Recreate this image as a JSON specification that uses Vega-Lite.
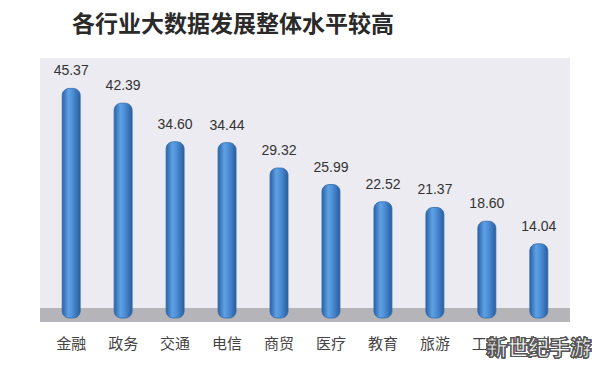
{
  "$schema": "https://vega.github.io/schema/vega-lite/v6.json",
  "autosize": "none",
  "width": 530,
  "height": 258,
  "padding": {"left": 40, "right": 24, "top": 58, "bottom": 50},
  "background": "#ffffff",
  "title": {
    "text": "各行业大数据发展整体水平较高",
    "anchor": "start",
    "dx": 32,
    "fontSize": 23,
    "font": "Noto Sans CJK SC",
    "fontWeight": "bold",
    "color": "#2a2a2a",
    "offset": 21
  },
  "config": {
    "view": {"stroke": null, "fill": "#ecebf1"},
    "axis": {"grid": false, "domain": false, "ticks": false}
  },
  "data": {
    "values": [
      {"industry": "金融", "score": 45.37},
      {"industry": "政务", "score": 42.39},
      {"industry": "交通", "score": 34.60},
      {"industry": "电信", "score": 34.44},
      {"industry": "商贸", "score": 29.32},
      {"industry": "医疗", "score": 25.99},
      {"industry": "教育", "score": 22.52},
      {"industry": "旅游", "score": 21.37},
      {"industry": "工业", "score": 18.60},
      {"industry": "农业", "score": 14.04}
    ]
  },
  "encoding": {
    "x": {
      "field": "industry",
      "type": "nominal",
      "sort": null,
      "scale": {"paddingInner": 0, "paddingOuter": 0.1},
      "axis": {
        "title": null,
        "labelAngle": 0,
        "labelFont": "Noto Sans CJK SC",
        "labelFontSize": 15,
        "labelColor": "#444444",
        "labelPadding": 20,
        "labelOverlap": false
      }
    }
  },
  "layer": [
    {
      "mark": {"type": "rect", "color": "#b4b4b9"},
      "encoding": {
        "x": null,
        "y": {"datum": 1, "type": "quantitative", "scale": {"domain": [-0.5, 51.5], "nice": false, "zero": false}, "axis": null},
        "y2": {"datum": -1.6}
      }
    },
    {
      "mark": {
        "type": "bar",
        "width": 18,
        "cornerRadiusTopLeft": 7,
        "cornerRadiusTopRight": 7,
        "cornerRadiusBottomLeft": 7,
        "cornerRadiusBottomRight": 7,
        "stroke": "#2f6aa8",
        "strokeWidth": 0.8,
        "color": {
          "gradient": "linear",
          "x1": 0, "x2": 1, "y1": 0, "y2": 0,
          "stops": [
            {"offset": 0, "color": "#2b62a5"},
            {"offset": 0.35, "color": "#5fa0e4"},
            {"offset": 0.55, "color": "#4f92da"},
            {"offset": 1, "color": "#2a5e9e"}
          ]
        }
      },
      "encoding": {
        "y": {"field": "score", "type": "quantitative", "axis": null},
        "y2": {"datum": -0.9}
      }
    },
    {
      "mark": {"type": "text", "dy": -17, "font": "Liberation Sans", "fontSize": 14, "color": "#333333"},
      "encoding": {
        "y": {"field": "score", "type": "quantitative"},
        "text": {"field": "score", "type": "quantitative", "format": ".2f"}
      }
    },
    {
      "mark": {
        "type": "text",
        "text": "新世纪手游",
        "font": "Noto Sans CJK SC",
        "fontWeight": "bold",
        "fontSize": 21,
        "color": "#f2f2f2",
        "stroke": "#555555",
        "strokeWidth": 1.1
      },
      "encoding": {
        "x": {"datum": "农业", "type": "nominal"},
        "y": {"datum": -7.2, "type": "quantitative"}
      }
    }
  ]
}
